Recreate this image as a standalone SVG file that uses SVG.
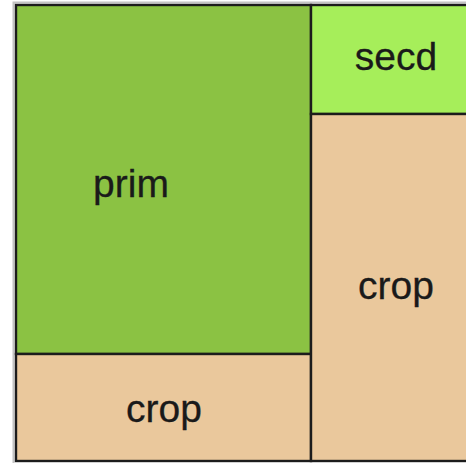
<svg xmlns="http://www.w3.org/2000/svg" width="466" height="463" viewBox="0 0 466 463">
<style>
.cell{stroke:#1c1c1c;stroke-width:2.4}
.prim{fill:#8bc243}
.secd{fill:#a6ee5a}
.crop{fill:#eac89c}
.lbl{font-family:"Liberation Sans",Arial,sans-serif;font-size:39px;fill:#1a1a1a;text-anchor:middle;stroke:#1a1a1a;stroke-width:0.3}
</style>
<rect width="466" height="463" fill="#ffffff"/>
<path d="M13.5,463 V2.5 H466" fill="none" stroke="#aaa" stroke-width="2" opacity="0.7"/>
<g id="prim"><rect class="cell prim" x="16" y="5" width="295" height="349"/><text class="lbl" x="131" y="197">prim</text></g>
<g id="crop1"><rect class="cell crop" x="16" y="354" width="295" height="107"/><text class="lbl" x="164" y="422">crop</text></g>
<g id="secd"><rect class="cell secd" x="311" y="5" width="175" height="109"/><text class="lbl" x="396" y="70">secd</text></g>
<g id="crop2"><rect class="cell crop" x="311" y="114" width="175" height="347"/><text class="lbl" x="396" y="299">crop</text></g>
<g id="connectors"></g>
</svg>
